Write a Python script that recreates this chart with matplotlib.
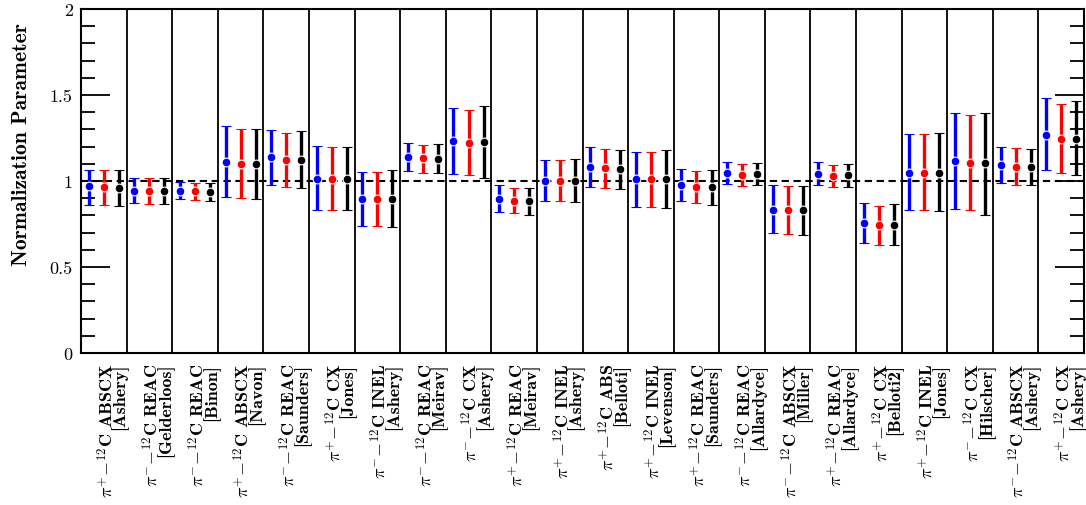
# Normalization parameters per data set, three fits each (blue, red, black)

import matplotlib
matplotlib.use("Agg")
import matplotlib.pyplot as plt
import matplotlib.transforms as mtransforms
import numpy as np

# -----------------------------------------------------------------------------
# Data

datasets = [
    (r"$\pi^{+}$$-$$^{12}$C ABSCX", "[Ashery]"),
    (r"$\pi^{-}$$-$$^{12}$C REAC", "[Gelderloos]"),
    (r"$\pi^{-}$$-$$^{12}$C REAC", "[Binon]"),
    (r"$\pi^{+}$$-$$^{12}$C ABSCX", "[Navon]"),
    (r"$\pi^{-}$$-$$^{12}$C REAC", "[Saunders]"),
    (r"$\pi^{+}$$-$$^{12}$C CX", "[Jones]"),
    (r"$\pi^{-}$$-$$^{12}$C INEL", "[Ashery]"),
    (r"$\pi^{-}$$-$$^{12}$C REAC", "[Meirav]"),
    (r"$\pi^{-}$$-$$^{12}$C CX", "[Ashery]"),
    (r"$\pi^{+}$$-$$^{12}$C REAC", "[Meirav]"),
    (r"$\pi^{+}$$-$$^{12}$C INEL", "[Ashery]"),
    (r"$\pi^{+}$$-$$^{12}$C ABS", "[Belloti]"),
    (r"$\pi^{+}$$-$$^{12}$C INEL", "[Levenson]"),
    (r"$\pi^{+}$$-$$^{12}$C REAC", "[Saunders]"),
    (r"$\pi^{-}$$-$$^{12}$C REAC", "[Allardyce]"),
    (r"$\pi^{-}$$-$$^{12}$C ABSCX", "[Miller]"),
    (r"$\pi^{+}$$-$$^{12}$C REAC", "[Allardyce]"),
    (r"$\pi^{+}$$-$$^{12}$C CX", "[Belloti2]"),
    (r"$\pi^{+}$$-$$^{12}$C INEL", "[Jones]"),
    (r"$\pi^{-}$$-$$^{12}$C CX", "[Hilscher]"),
    (r"$\pi^{-}$$-$$^{12}$C ABSCX", "[Ashery]"),
    (r"$\pi^{+}$$-$$^{12}$C CX", "[Ashery]"),
]

# central values
blue_val = [0.969, 0.944, 0.944, 1.110, 1.138, 1.014, 0.895, 1.140, 1.231, 0.897, 1.002,
            1.081, 1.012, 0.975, 1.047, 0.833, 1.043, 0.754, 1.048, 1.114, 1.091, 1.269]
red_val = [0.965, 0.940, 0.940, 1.101, 1.124, 1.014, 0.895, 1.132, 1.223, 0.886, 1.002,
           1.076, 1.012, 0.965, 1.037, 0.829, 1.029, 0.742, 1.048, 1.105, 1.083, 1.246]
black_val = [0.959, 0.944, 0.938, 1.101, 1.124, 1.014, 0.895, 1.130, 1.227, 0.886, 1.002,
             1.070, 1.012, 0.965, 1.041, 0.829, 1.033, 0.746, 1.048, 1.105, 1.080, 1.246]

# upper ends of the error bars
blue_hi = [1.066, 1.017, 0.992, 1.318, 1.295, 1.205, 1.052, 1.221, 1.424, 0.975, 1.120,
           1.198, 1.169, 1.072, 1.109, 0.975, 1.109, 0.870, 1.271, 1.395, 1.198, 1.483]
red_hi = [1.064, 1.017, 0.986, 1.302, 1.279, 1.200, 1.052, 1.211, 1.411, 0.959, 1.120,
          1.188, 1.169, 1.060, 1.099, 0.969, 1.091, 0.855, 1.271, 1.384, 1.190, 1.448]
black_hi = [1.064, 1.017, 0.986, 1.302, 1.291, 1.200, 1.062, 1.215, 1.436, 0.959, 1.128,
            1.178, 1.178, 1.064, 1.103, 0.969, 1.099, 0.864, 1.279, 1.393, 1.184, 1.465]

# lower ends of the error bars
blue_lo = [0.862, 0.872, 0.895, 0.907, 0.979, 0.829, 0.740, 1.056, 1.041, 0.820, 0.886,
           0.963, 0.849, 0.882, 0.983, 0.696, 0.979, 0.638, 0.829, 0.835, 0.986, 1.062]
red_lo = [0.860, 0.866, 0.890, 0.899, 0.967, 0.829, 0.740, 1.048, 1.037, 0.812, 0.886,
          0.957, 0.849, 0.870, 0.973, 0.690, 0.963, 0.630, 0.829, 0.829, 0.975, 1.048]
black_lo = [0.855, 0.866, 0.886, 0.895, 0.959, 0.829, 0.733, 1.045, 1.017, 0.804, 0.878,
            0.953, 0.845, 0.862, 0.975, 0.686, 0.963, 0.628, 0.824, 0.804, 0.975, 1.035]

y_ticks = [0, 0.5, 1, 1.5, 2]
y_tick_labels = ["0", "0.5", "1", "1.5", "2"]

# -----------------------------------------------------------------------------
# Plot

plt.rcParams["mathtext.fontset"] = "cm"
plt.rcParams["font.family"] = "cmr10"
plt.rcParams["axes.formatter.use_mathtext"] = True

fig = plt.figure(figsize=(10.86, 5.06), dpi=100)
ax = fig.add_axes([81/1086, (506-354)/506, (1084-81)/1086, 344/506])

n = len(datasets)
x = np.arange(n)
series = [(blue_val, blue_lo, blue_hi, "#0000ff", -0.33),
          (red_val, red_lo, red_hi, "#ff0000", 0.0),
          (black_val, black_lo, black_hi, "#000000", 0.33)]

ax.axhline(1.0, color="black", lw=1.5, ls=(0, (3.5, 2.2)), zorder=1)
for i in range(1, n):
    ax.axvline(i - 0.5, color="black", lw=1.3, zorder=1)

for val, lo, hi, col, off in series:
    val = np.array(val)
    yerr = [val - np.array(lo), np.array(hi) - val]
    ax.errorbar(x + off, val, yerr=yerr, fmt="o", color=col, ecolor=col,
                elinewidth=2.4, capsize=3.5, capthick=2.4, markersize=6.3,
                markeredgecolor="white", markeredgewidth=0.8, zorder=3)

ax.set_xlim(-0.5, n - 0.5)
ax.set_ylim(0, 2)
ax.set_yticks(y_ticks)
ax.set_yticklabels(y_tick_labels, fontsize=13)
ax.set_yticks(np.arange(0, 2.01, 0.1), minor=True)
ax.tick_params(axis="y", which="both", direction="in", left=True, right=True, width=1.3, zorder=5)
ax.tick_params(axis="y", which="major", length=21, pad=6)
ax.tick_params(axis="y", which="minor", length=10)

ax.set_xticks(x)
ax.set_xticklabels([a + "\n" + b for a, b in datasets], rotation=90, va="top", ha="center",
                   multialignment="right", family="cmb10", fontsize=13, linespacing=0.7)
ax.tick_params(axis="x", which="both", length=0, pad=7)
shift = mtransforms.ScaledTranslation(8/100, 0, fig.dpi_scale_trans)
for lab in ax.get_xticklabels():
    lab.set_transform(lab.get_transform() + shift)

ax.set_ylabel("Normalization Parameter", family="cmb10", fontsize=15.5)
ax.yaxis.set_label_coords(-0.05, 0.61)

for sp in ax.spines.values():
    sp.set_linewidth(1.5)
    sp.set_zorder(6)

fig.savefig("out.png", dpi=100)
